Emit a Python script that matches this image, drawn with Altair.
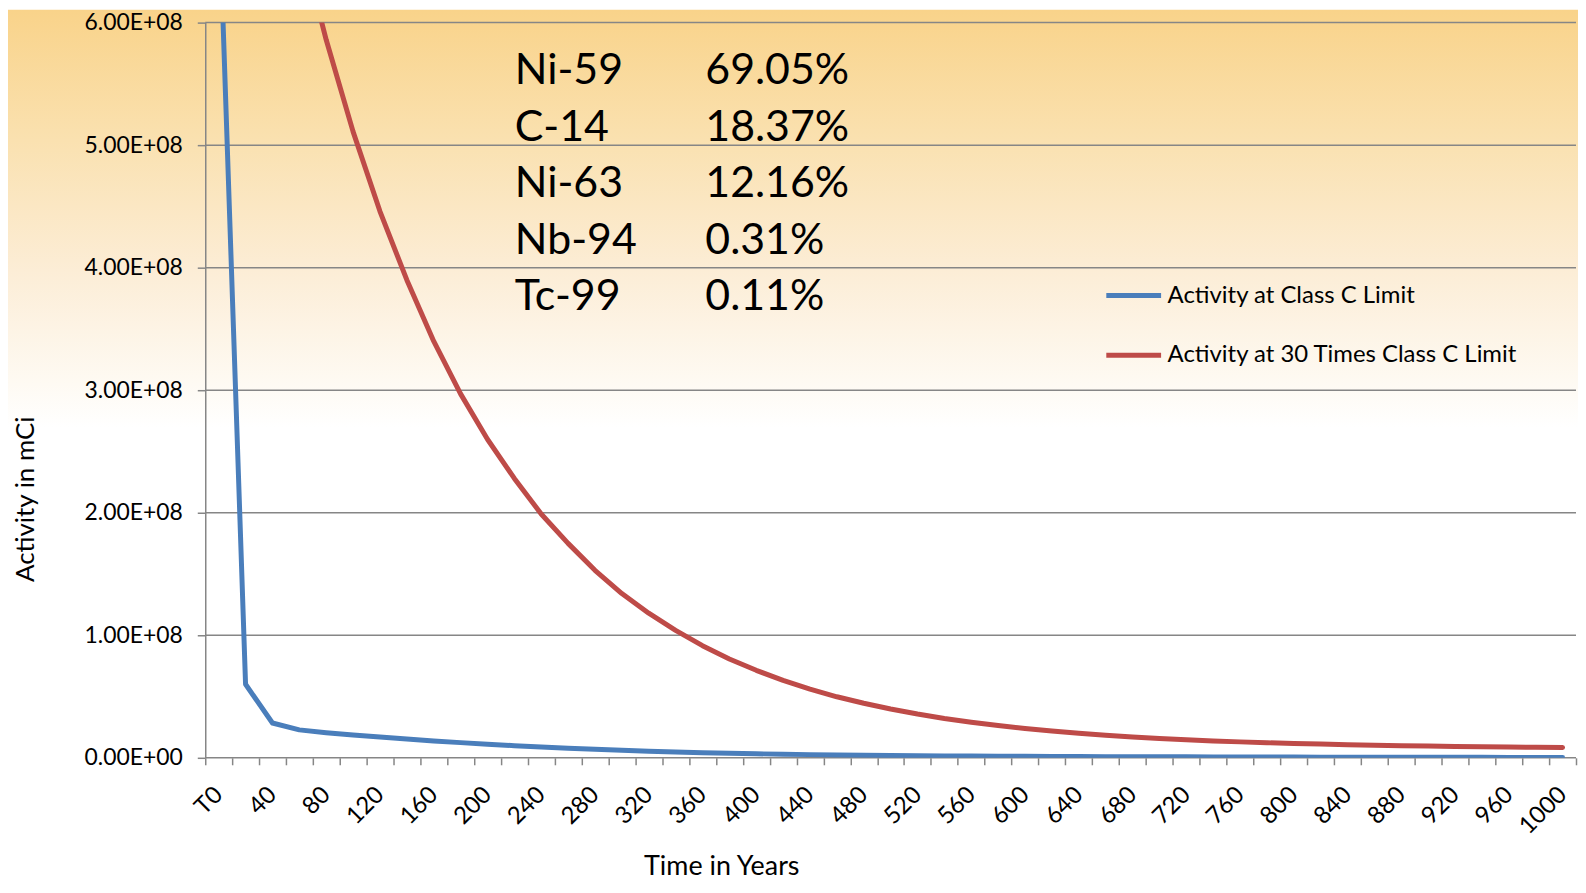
import altair as alt
import pandas as pd

# ---- data (activity values in units of 1e8 mCi) ----
years = ["T0", "20", "40", "60", "80", "100", "120", "140", "160", "180",
         "200", "220", "240", "260", "280", "300", "320", "340", "360", "380",
         "400", "420", "440", "460", "480", "500", "520", "540", "560", "580",
         "600", "620", "640", "660", "680", "700", "720", "740", "760", "780",
         "800", "820", "840", "860", "880", "900", "920", "940", "960", "980",
         "1000"]

class_c = [7.05, 0.60, 0.284, 0.228, 0.205, 0.186, 0.169, 0.153, 0.138, 0.124,
           0.111, 0.099, 0.088, 0.078, 0.069, 0.061, 0.054, 0.048, 0.042, 0.037,
           0.033, 0.029, 0.026, 0.023, 0.021, 0.019, 0.017, 0.015, 0.014, 0.013,
           0.012, 0.011, 0.010, 0.0095, 0.009, 0.0085, 0.008, 0.0075, 0.007, 0.0065,
           0.006, 0.0056, 0.0052, 0.0048, 0.0045, 0.0042, 0.0039, 0.0036, 0.0034, 0.0032,
           0.003]

times_30 = [10.1, 8.82, 7.69, 6.71, 5.86, 5.11, 4.46, 3.90, 3.40, 2.97,
            2.60, 2.28, 1.99, 1.75, 1.53, 1.34, 1.18, 1.04, 0.915, 0.807,
            0.714, 0.632, 0.561, 0.498, 0.445, 0.398, 0.357, 0.321, 0.290, 0.263,
            0.239, 0.218, 0.200, 0.184, 0.170, 0.158, 0.147, 0.138, 0.130, 0.123,
            0.117, 0.112, 0.107, 0.103, 0.099, 0.096, 0.093, 0.090, 0.088, 0.086,
            0.084]

series_names = ["Activity at Class C Limit", "Activity at 30 Times Class C Limit"]
series_colors = ["#4A7EBB", "#BE4B48"]

y_ticks = [0, 1e8, 2e8, 3e8, 4e8, 5e8, 6e8]

nuclides = ["Ni-59", "C-14", "Ni-63", "Nb-94", "Tc-99"]
shares = ["69.05%", "18.37%", "12.16%", "0.31%", "0.11%"]

assert len(years) == len(class_c) == len(times_30) == 51

rows = []
for y, a, b in zip(years, class_c, times_30):
    rows.append({"year": y, "series": series_names[0], "value": a * 1e8})
    rows.append({"year": y, "series": series_names[1], "value": b * 1e8})
df = pd.DataFrame(rows)
grid_df = pd.DataFrame({"value": y_ticks})

# ---- layout ----
W, H = 1376, 738
PAD_L, PAD_T, PAD_R, PAD_B = 198, 13, 2, 123
FONT = "Lato"
GRAY = "#868686"

yscale = alt.Scale(domain=[0, 6e8], nice=False, zero=True)

y_axis = alt.Axis(
    values=y_ticks, title="Activity in mCi",
    labelExpr="replace(format(datum.value, '.2e'), 'e+', 'E+0')",
    tickSize=8, tickWidth=1.5, tickColor=GRAY, domainColor=GRAY,
    domainWidth=1.5, labelPadding=15, grid=False,
    labelFont=FONT, labelFontSize=23, labelColor="black",
    titleFont=FONT, titleFontSize=26, titleFontWeight="normal",
    titleColor="black", titleX=-180, titleY=478, titleAngle=270,
    titleAlign="center", titleBaseline="middle", zindex=1,
)

background = alt.Chart(alt.Data(values=[{}])).mark_rect(
    fill=alt.LinearGradient(
        gradient="linear",
        stops=[
            alt.GradientStop(color="#F9D38A", offset=0),
            alt.GradientStop(color="#FAE1B0", offset=0.15),
            alt.GradientStop(color="#FCEDD6", offset=0.30),
            alt.GradientStop(color="#FEFAF3", offset=0.43),
            alt.GradientStop(color="#FFFFFF", offset=0.48),
            alt.GradientStop(color="#FFFFFF", offset=1),
        ],
        x1=0, x2=0, y1=0, y2=1,
    ),
    strokeWidth=0,
).encode(
    x=alt.value(-PAD_L), x2=alt.value(W + PAD_R),
    y=alt.value(-PAD_T), y2=alt.value(H + PAD_B),
)

grid = alt.Chart(grid_df).mark_rule(color=GRAY, strokeWidth=1.5).encode(
    y=alt.Y("value:Q", scale=yscale, axis=y_axis),
    x=alt.value(0), x2=alt.value(W),
)

lines = alt.Chart(df).mark_line(
    strokeWidth=5, clip=True, strokeCap="round", strokeJoin="round"
).encode(
    x=alt.X(
        "year:N", sort=years, bandPosition=0.5,
        scale=alt.Scale(type="band", paddingInner=0, paddingOuter=0),
        axis=alt.Axis(
            title="Time in Years", tickBand="extent",
            labelExpr="datum.value == 'T0' || toNumber(datum.value) % 40 == 0 ? datum.value : ''",
            labelAngle=315, labelAlign="right", labelBaseline="middle",
            labelPadding=26, tickSize=7, tickWidth=1.5, tickColor=GRAY,
            domain=False, grid=False, labelFont=FONT, labelFontSize=24,
            labelColor="black", titleFont=FONT, titleFontSize=27,
            titleFontWeight="normal", titleColor="black",
            titleX=518, titleY=109, titleAlign="center", titleBaseline="middle",
            zindex=1, labelOverlap=False,
        ),
    ),
    y=alt.Y("value:Q", scale=yscale, axis=y_axis),
    color=alt.Color(
        "series:N",
        scale=alt.Scale(domain=series_names, range=series_colors),
        legend=alt.Legend(
            orient="none", legendX=902, legendY=244, title=None,
            symbolType="stroke", symbolSize=3025, symbolStrokeWidth=5,
            labelFont=FONT, labelFontSize=24, labelColor="black",
            labelOffset=4, rowPadding=18, padding=0, labelLimit=600,
        ),
    ),
    order=alt.Order("series:N"),
)

names_text = alt.Chart(alt.Data(values=[{}])).mark_text(
    align="left", baseline="alphabetic", font=FONT, fontSize=43,
    lineHeight=56.7, color="black",
).encode(x=alt.value(310.7), y=alt.value(61.7), text=alt.value(nuclides))

shares_text = alt.Chart(alt.Data(values=[{}])).mark_text(
    align="left", baseline="alphabetic", font=FONT, fontSize=43,
    lineHeight=56.7, color="black",
).encode(x=alt.value(502), y=alt.value(61.7), text=alt.value(shares))

chart = alt.layer(background, grid, lines, names_text, shares_text).properties(
    width=W, height=H,
    autosize=alt.AutoSizeParams(type="none"),
    padding={"left": PAD_L, "top": PAD_T, "right": PAD_R, "bottom": PAD_B},
).configure_view(stroke=None).configure(background="white")

chart.save("out.html", embed_options={"renderer": "svg", "actions": False})
